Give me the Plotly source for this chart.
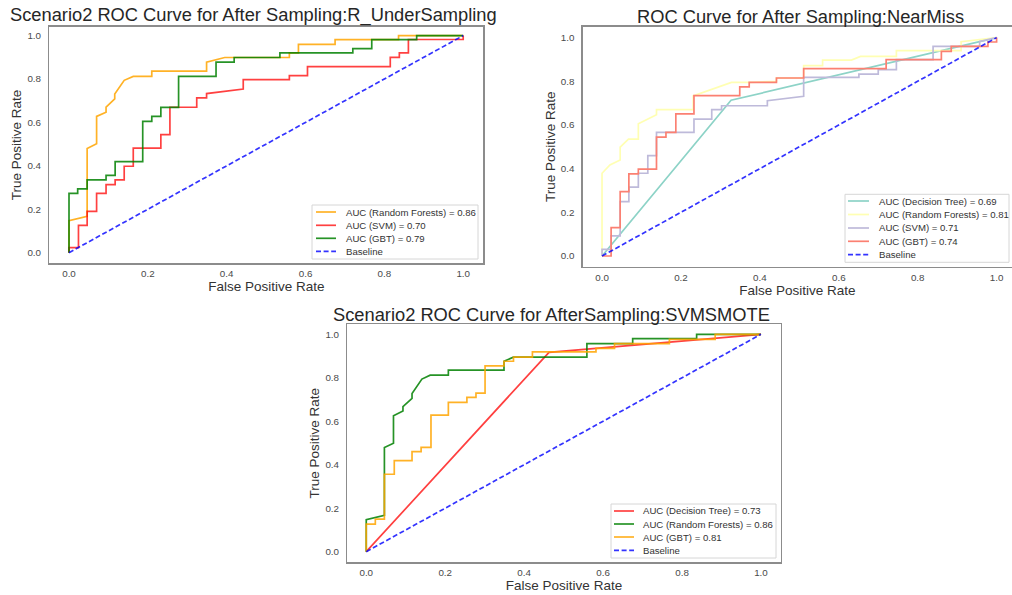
import plotly.graph_objects as go

W, H = 1012, 595
FONT = "Liberation Sans, Arial, sans-serif"

# ---------------- data ----------------
TICK_VALS = [0.0, 0.2, 0.4, 0.6, 0.8, 1.0]
TICK_TEXT = ["0.0", "0.2", "0.4", "0.6", "0.8", "1.0"]

BASE_FPR = [0.0, 1.0]
BASE_TPR = [0.0, 1.0]

# Panel 1: R_UnderSampling
p1_rf_fpr = [0, 0, 0.046, 0.046, 0.07, 0.07, 0.094, 0.094, 0.116, 0.116, 0.14, 0.163, 0.21, 0.21,
             0.349, 0.349, 0.395, 0.559, 0.559, 0.582, 0.582, 0.675, 0.675, 0.836, 0.836, 1.0]
p1_rf_tpr = [0, 0.147, 0.167, 0.48, 0.502, 0.628, 0.647, 0.67, 0.709, 0.731, 0.794, 0.812, 0.812, 0.836,
             0.836, 0.878, 0.899, 0.899, 0.92, 0.92, 0.96, 0.96, 0.981, 0.981, 1.0, 1.0]

p1_svm_fpr = [0, 0, 0.024, 0.024, 0.046, 0.046, 0.07, 0.07, 0.094, 0.094, 0.117, 0.117, 0.14, 0.14,
              0.163, 0.163, 0.233, 0.233, 0.256, 0.256, 0.324, 0.324, 0.349, 0.349, 0.442, 0.442,
              0.559, 0.559, 0.605, 0.605, 0.815, 0.815, 0.838, 0.838, 0.861, 0.861, 1.0, 1.0]
p1_svm_tpr = [0, 0.023, 0.023, 0.126, 0.126, 0.19, 0.19, 0.273, 0.273, 0.313, 0.313, 0.335, 0.335, 0.398,
              0.398, 0.482, 0.482, 0.544, 0.544, 0.67, 0.67, 0.713, 0.713, 0.733, 0.754, 0.797,
              0.797, 0.816, 0.816, 0.857, 0.857, 0.9, 0.9, 0.92, 0.92, 0.982, 0.982, 1.0]

p1_gbt_fpr = [0, 0, 0.022, 0.022, 0.046, 0.046, 0.094, 0.094, 0.117, 0.117, 0.187, 0.187, 0.21, 0.21,
              0.233, 0.233, 0.278, 0.278, 0.373, 0.373, 0.419, 0.419, 0.535, 0.535, 0.72, 0.72,
              0.768, 0.768, 0.882, 0.882, 1.0]
p1_gbt_tpr = [0, 0.273, 0.273, 0.294, 0.294, 0.335, 0.335, 0.356, 0.356, 0.419, 0.419, 0.605, 0.605, 0.628,
              0.628, 0.669, 0.669, 0.812, 0.812, 0.878, 0.878, 0.899, 0.899, 0.92, 0.92, 0.94,
              0.94, 0.981, 0.981, 1.0, 1.0]

# Panel 2: NearMiss
p2_dt_fpr = [0, 0.327, 1.0]
p2_dt_tpr = [0, 0.713, 1.0]

p2_rf_fpr = [0, 0, 0.02, 0.046, 0.046, 0.067, 0.092, 0.092, 0.138, 0.138, 0.231, 0.231, 0.328, 0.375,
             0.442, 0.442, 0.511, 0.511, 0.559, 0.559, 0.632, 0.655, 0.746, 0.746, 0.91, 0.91, 1.0]
p2_rf_tpr = [0, 0.379, 0.417, 0.44, 0.499, 0.535, 0.535, 0.606, 0.647, 0.67, 0.67, 0.733, 0.795, 0.795,
             0.8, 0.815, 0.815, 0.872, 0.872, 0.897, 0.897, 0.914, 0.914, 0.94, 0.94, 0.981, 1.0]

p2_svm_fpr = [0, 0, 0.023, 0.023, 0.046, 0.046, 0.068, 0.068, 0.092, 0.092, 0.116, 0.116, 0.138, 0.138,
              0.233, 0.233, 0.278, 0.278, 0.303, 0.303, 0.419, 0.419, 0.511, 0.511, 0.651, 0.651,
              0.70, 0.70, 0.746, 0.746, 0.839, 0.839, 0.957, 0.957, 1.0]
p2_svm_tpr = [0, 0.03, 0.03, 0.092, 0.092, 0.249, 0.249, 0.315, 0.315, 0.379, 0.379, 0.46, 0.46, 0.566,
              0.566, 0.627, 0.627, 0.67, 0.67, 0.688, 0.688, 0.711, 0.731, 0.818, 0.818, 0.833,
              0.833, 0.853, 0.853, 0.899, 0.899, 0.96, 0.96, 0.983, 1.0]

p2_gbt_fpr = [0, 0.023, 0.023, 0.046, 0.046, 0.068, 0.068, 0.092, 0.092, 0.138, 0.138, 0.162, 0.162,
              0.187, 0.187, 0.233, 0.233, 0.349, 0.349, 0.373, 0.373, 0.442, 0.442, 0.511, 0.511,
              0.72, 0.72, 0.86, 0.86, 0.885, 0.885, 0.978, 0.978, 1.0, 1.0]
p2_gbt_tpr = [0, 0, 0.13, 0.13, 0.295, 0.295, 0.376, 0.376, 0.398, 0.398, 0.544, 0.544, 0.566,
              0.566, 0.651, 0.651, 0.734, 0.734, 0.774, 0.774, 0.795, 0.795, 0.815, 0.815, 0.858,
              0.858, 0.899, 0.899, 0.937, 0.937, 0.96, 0.96, 0.98, 0.98, 1.0]

# Panel 3: SVMSMOTE
p3_dt_fpr = [0, 0.463, 1.0]
p3_dt_tpr = [0, 0.917, 1.0]

p3_rf_fpr = [0, 0, 0.046, 0.046, 0.069, 0.069, 0.093, 0.093, 0.116, 0.116, 0.141, 0.162, 0.208, 0.208,
             0.349, 0.349, 0.373, 0.559, 0.559, 0.675, 0.675, 0.837, 0.837, 1.0]
p3_rf_tpr = [0, 0.147, 0.167, 0.479, 0.499, 0.625, 0.647, 0.667, 0.705, 0.728, 0.794, 0.812, 0.812, 0.835,
             0.835, 0.876, 0.895, 0.895, 0.957, 0.957, 0.98, 0.98, 1.0, 1.0]

p3_gbt_fpr = [0, 0, 0.023, 0.023, 0.046, 0.046, 0.071, 0.071, 0.116, 0.116, 0.139, 0.139, 0.164, 0.164,
              0.208, 0.208, 0.255, 0.255, 0.278, 0.278, 0.301, 0.301, 0.349, 0.349, 0.373, 0.373,
              0.421, 0.421, 0.582, 0.582, 0.629, 0.629, 0.768, 0.768, 0.884, 0.884, 1.0]
p3_gbt_tpr = [0, 0.127, 0.127, 0.15, 0.15, 0.356, 0.356, 0.419, 0.419, 0.46, 0.46, 0.48, 0.48, 0.628,
              0.628, 0.687, 0.687, 0.71, 0.71, 0.729, 0.729, 0.855, 0.855, 0.876, 0.876, 0.895,
              0.895, 0.919, 0.919, 0.935, 0.935, 0.957, 0.957, 0.977, 0.977, 1.0, 1.0]

TITLES = ["Scenario2 ROC Curve for After Sampling:R_UnderSampling",
          "ROC Curve for After Sampling:NearMiss",
          "Scenario2 ROC Curve for AfterSampling:SVMSMOTE"]

P1_LABELS = ["AUC (Random Forests) = 0.86", "AUC (SVM) = 0.70", "AUC (GBT) = 0.79", "Baseline"]
P2_LABELS = ["AUC (Decision Tree) = 0.69", "AUC (Random Forests) = 0.81", "AUC (SVM) = 0.71",
             "AUC (GBT) = 0.74", "Baseline"]
P3_LABELS = ["AUC (Decision Tree) = 0.73", "AUC (Random Forests) = 0.86", "AUC (GBT) = 0.81", "Baseline"]

# ---------------- styles ----------------
ORANGE = "rgba(255,165,0,0.85)"
RED = "rgba(255,0,0,0.75)"
GREEN = "rgba(0,128,0,0.85)"
BLUE = "rgba(0,0,255,0.8)"
S3_TEAL = "#8dd3c7"
S3_YELLOW = "#ffffb3"
S3_LAV = "#bebada"
S3_SALMON = "#fb8072"
LW = 1.7
DASH = "5px,2.6px"


def px(x):
    return x / W


def py(y):
    return 1 - y / H


fig = go.Figure()


def add(fpr, tpr, color, ax, name, dash=None):
    fig.add_trace(go.Scatter(
        x=fpr, y=tpr, mode="lines", name=name, showlegend=False,
        line=dict(color=color, width=LW, dash=dash),
        xaxis="x" + ax, yaxis="y" + ax,
    ))


# panel 1
add(p1_rf_fpr, p1_rf_tpr, ORANGE, "", P1_LABELS[0])
add(p1_svm_fpr, p1_svm_tpr, RED, "", P1_LABELS[1])
add(p1_gbt_fpr, p1_gbt_tpr, GREEN, "", P1_LABELS[2])
add(BASE_FPR, BASE_TPR, BLUE, "", P1_LABELS[3], DASH)
# panel 2
add(p2_dt_fpr, p2_dt_tpr, S3_TEAL, "2", P2_LABELS[0])
add(p2_rf_fpr, p2_rf_tpr, S3_YELLOW, "2", P2_LABELS[1])
add(p2_svm_fpr, p2_svm_tpr, S3_LAV, "2", P2_LABELS[2])
add(p2_gbt_fpr, p2_gbt_tpr, S3_SALMON, "2", P2_LABELS[3])
add(BASE_FPR, BASE_TPR, BLUE, "2", P2_LABELS[4], DASH)
# panel 3
add(p3_dt_fpr, p3_dt_tpr, RED, "3", P3_LABELS[0])
add(p3_rf_fpr, p3_rf_tpr, GREEN, "3", P3_LABELS[1])
add(p3_gbt_fpr, p3_gbt_tpr, ORANGE, "3", P3_LABELS[2])
add(BASE_FPR, BASE_TPR, BLUE, "3", P3_LABELS[3], DASH)

AX_COLOR = "#8c8c8c"
TICK_FONT = dict(family=FONT, size=9.8, color="#4a4a4a")
TITLE_FONT = dict(family=FONT, size=13.5, color="#333333")


def xaxis(domain, rng, anchor):
    return dict(domain=domain, range=rng, anchor=anchor, showline=True, mirror=True,
                linecolor=AX_COLOR, linewidth=1.3, showgrid=False, zeroline=False,
                tickmode="array", tickvals=TICK_VALS, ticktext=TICK_TEXT, ticks="",
                ticklabelstandoff=1, tickfont=TICK_FONT, fixedrange=True,
                title=dict(text="False Positive Rate", font=TITLE_FONT, standoff=2))


def yaxis(domain, rng, anchor):
    return dict(domain=domain, range=rng, anchor=anchor, showline=True, mirror=True,
                linecolor=AX_COLOR, linewidth=1.3, showgrid=False, zeroline=False,
                tickmode="array", tickvals=TICK_VALS, ticktext=TICK_TEXT, ticks="",
                ticklabelstandoff=5, tickfont=TICK_FONT, fixedrange=True,
                title=dict(text="True Positive Rate", font=TITLE_FONT, standoff=2))


fig.update_layout(
    width=W, height=H, autosize=False,
    margin=dict(l=0, r=0, t=0, b=0),
    paper_bgcolor="white", plot_bgcolor="white",
    font=dict(family=FONT),
    hovermode=False,
    xaxis=xaxis([px(49.3), px(483.3)], [-0.05, 1.051], "y"),
    yaxis=yaxis([py(263.3), py(26.7)], [-0.049, 1.041], "x"),
    xaxis2=xaxis([px(582.7), 1.0], [-0.049, 1.039], "y2"),
    yaxis2=yaxis([py(266.7), py(26.7)], [-0.049, 1.05], "x2"),
    xaxis3=xaxis([px(347.3), px(780.7)], [-0.048, 1.05], "y3"),
    yaxis3=yaxis([py(562.3), py(324.3)], [-0.049, 1.046], "x3"),
)

annotations = []
shapes = []

# titles
TITLE_POS = [(8, 15, "left"), (800, 16, "center"), (331, 314, "left")]
for text, (tx, ty, anc) in zip(TITLES, TITLE_POS):
    annotations.append(dict(text=text, x=px(tx), y=py(ty), xref="paper", yref="paper",
                            xanchor=anc, yanchor="middle", showarrow=False,
                            font=dict(family=FONT, size=18.3, color="#262626")))

# legends (drawn as boxes, sample lines and text)
LEGENDS = [
    dict(box=(312, 205, 478, 259), rows=[212, 225.3, 238.3, 251.3], lx=(316, 336), tx=344,
         labels=P1_LABELS, colors=[ORANGE, RED, GREEN, BLUE]),
    dict(box=(845, 194.3, 1009, 262.3), rows=[201, 214.5, 228, 241.3, 254.7], lx=(848, 869), tx=877,
         labels=P2_LABELS, colors=[S3_TEAL, S3_YELLOW, S3_LAV, S3_SALMON, BLUE]),
    dict(box=(611, 504, 776, 558), rows=[511, 524, 537, 550.3], lx=(614, 634), tx=641,
         labels=P3_LABELS, colors=[RED, GREEN, ORANGE, BLUE]),
]
for lg in LEGENDS:
    x0, y0, x1, y1 = lg["box"]
    shapes.append(dict(type="rect", xref="paper", yref="paper", x0=px(x0), x1=px(x1),
                       y0=py(y1), y1=py(y0), line=dict(color="#d6d6d6", width=1),
                       fillcolor="rgba(255,255,255,0.85)", layer="above"))
    for ry, lab, col in zip(lg["rows"], lg["labels"], lg["colors"]):
        shapes.append(dict(type="line", xref="paper", yref="paper", x0=px(lg["lx"][0]),
                           x1=px(lg["lx"][1]), y0=py(ry), y1=py(ry), layer="above",
                           line=dict(color=col, width=LW,
                                     dash=DASH if lab == "Baseline" else "solid")))
        annotations.append(dict(text=lab, x=px(lg["tx"]), y=py(ry), xref="paper", yref="paper",
                                xanchor="left", yanchor="middle", showarrow=False,
                                font=dict(family=FONT, size=9.6, color="#333333")))

fig.update_layout(annotations=annotations, shapes=shapes)

fig.write_html(
    "out.html",
    config={"displayModeBar": False, "staticPlot": True},
    post_script="document.body.style.margin='0';document.body.style.overflow='hidden';",
)
